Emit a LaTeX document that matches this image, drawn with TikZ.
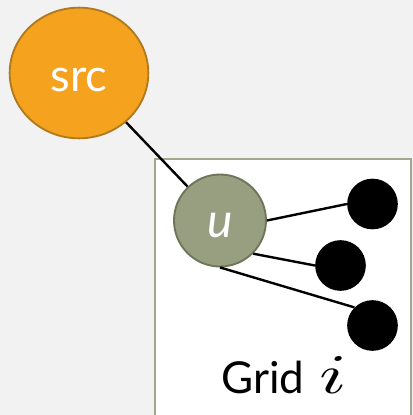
\documentclass[tikz,border=0pt]{standalone}
\usepackage{graphicx}
\usepackage{fontspec}
\setmainfont{Lato}
\usetikzlibrary{shapes.geometric}
\definecolor{bgcol}{HTML}{F2F2F2}
\definecolor{srcfill}{HTML}{F5A31F}
\definecolor{srcline}{HTML}{B07A1E}
\definecolor{ufill}{HTML}{989E80}
\definecolor{uline}{HTML}{6F7559}
\definecolor{gridline}{HTML}{A3A78B}
\tikzset{
  srcnode/.style={ellipse, draw=srcline, fill=srcfill, line width=1.4pt,
    minimum width=104pt, minimum height=98pt, inner sep=0pt,
    text=white, font=\fontsize{34}{40}\selectfont, text height=28pt, text depth=0pt},
  unode/.style={circle, draw=uline, fill=ufill, line width=1.4pt,
    minimum size=69pt, inner sep=0pt,
    text=white, font=\fontsize{36}{42}\selectfont\itshape, text height=25pt, text depth=0pt},
  dotnode/.style={circle, fill=black, minimum size=38pt, inner sep=0pt},
  gridbox/.style={draw=gridline, fill=white, line width=1.5pt},
  gridlabel/.style={anchor=base west, inner sep=0pt, font=\fontsize{33}{38}\selectfont},
  edge/.style={draw=black, line width=1.8pt}
}
\begin{document}
\begin{tikzpicture}[x=0.75pt, y=-0.75pt]
\useasboundingbox (0,0) rectangle (413,415);
\fill[bgcol] (0,0) rectangle (413,415);
\begin{scope}
  \clip (0,0) rectangle (413,415);
  \draw[gridbox] (155,159) rectangle (411,440);
\end{scope}
% vertices
\node[srcnode] (src) at (79,73) {src};
\node[unode] (u) at (220,220.5) {u};
\node[dotnode] (d1) at (372.5,204) {};
\node[dotnode] (d2) at (340.5,265.5) {};
\node[dotnode] (d3) at (372.5,325.5) {};
\node[gridlabel] (grid) at (221,393) {Grid\kern0.35em\scalebox{6}[4.2]{\normalsize$i$}};
% edges
\draw[edge] (src) -- (u);
\draw[edge] (u.east) -- (d1.west);
\draw[edge] (u.-45) -- (d2.west);
\draw[edge] (u.south) -- (d3.135);
\end{tikzpicture}
\end{document}
